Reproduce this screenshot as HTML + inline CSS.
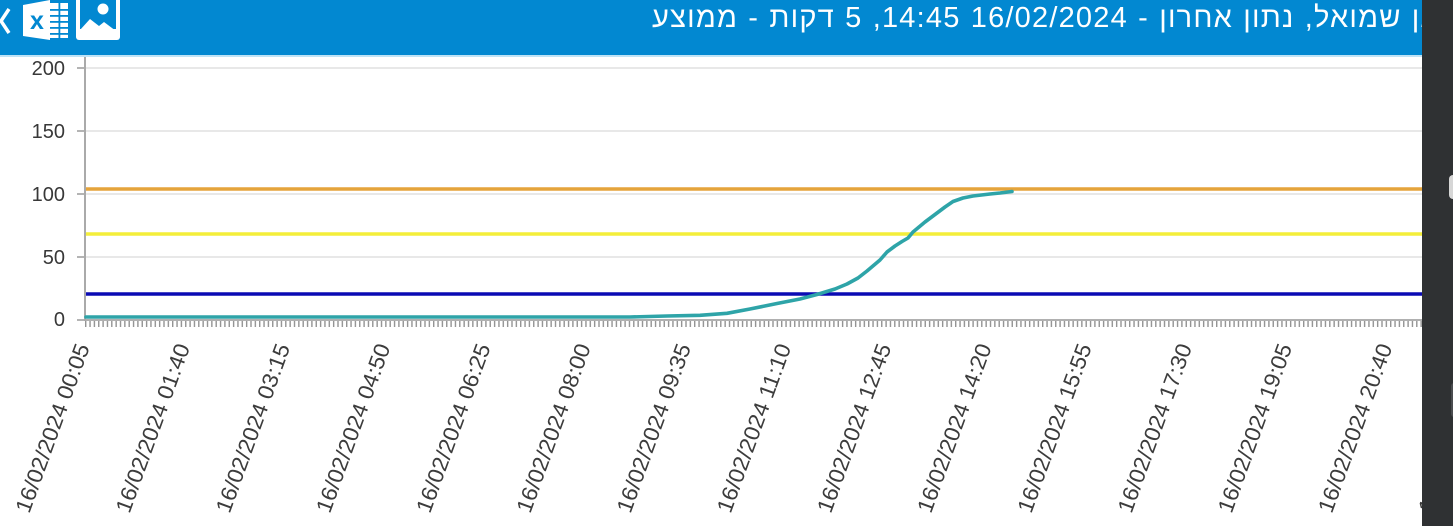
<!DOCTYPE html>
<html>
<head>
<meta charset="utf-8">
<style>
  html,body{margin:0;padding:0;}
  body{width:1453px;height:526px;overflow:hidden;background:#fff;position:relative;font-family:"Liberation Sans","DejaVu Sans",sans-serif;}
  #chart{position:absolute;left:0;top:0;}
  #title{position:absolute;left:652px;top:3px;width:782px;height:34px;line-height:30px;font-size:29px;color:#fff;direction:rtl;white-space:nowrap;text-align:justify;text-align-last:justify;letter-spacing:1.2px;font-family:"Liberation Sans","DejaVu Sans",sans-serif;z-index:1;}
  #overlay{position:absolute;left:1422px;top:0;width:31px;height:526px;background:#2f3133;z-index:2;}
  #overlay .a{position:absolute;left:27px;top:175px;width:8px;height:24px;border-radius:4px;background:#d6d6d6;}
  #overlay .b{position:absolute;left:29px;top:383px;width:6px;height:34px;border-radius:3px;background:#4a4c4f;}
</style>
</head>
<body>
<svg id="chart" width="1453" height="526" viewBox="0 0 1453 526" xmlns="http://www.w3.org/2000/svg">
  <defs>
    <pattern id="ticks" x="85" y="321" width="4.35" height="7" patternUnits="userSpaceOnUse">
      <rect x="0" y="0" width="1.4" height="6" fill="#939393"/>
    </pattern>
  </defs>

  <!-- header -->
  <rect x="0" y="0" width="1453" height="55" fill="#0288D1"/>
  <rect x="0" y="55" width="1453" height="2" fill="#bfe3f6"/>

  <!-- back chevron -->
  <polyline points="9,9 1,21 9,33" fill="none" stroke="#fff" stroke-width="3.5"/>
  <!-- excel icon -->
  <polygon points="23,5 50,0 50,40 23,36" fill="#fff"/>
  <text x="37" y="29" font-size="25" font-weight="bold" fill="#0288D1" text-anchor="middle" font-family="Liberation Sans, sans-serif">x</text>
  <rect x="50" y="3" width="18" height="35" fill="#fff"/>
  <g fill="#0288D1">
    <rect x="50" y="9" width="18" height="1.8"/>
    <rect x="50" y="15" width="18" height="1.8"/>
    <rect x="50" y="21" width="18" height="1.8"/>
    <rect x="50" y="27" width="18" height="1.8"/>
    <rect x="50" y="33" width="18" height="1.8"/>
    <rect x="58.5" y="3" width="1.8" height="35"/>
  </g>
  <!-- image icon -->
  <rect x="76" y="-4" width="44" height="44" rx="3" fill="#fff"/>
  <rect x="80" y="-1" width="36" height="30" fill="#0288D1"/>
  <circle cx="103" cy="9" r="5.5" fill="#fff"/>
  <polygon points="80,30 90,19 99,26 104,22 116,31 116,36 80,36" fill="#fff"/>

  <!-- gridlines -->
  <g stroke="#e0e0e0" stroke-width="1.6">
    <line x1="85" y1="68" x2="1422" y2="68"/>
    <line x1="85" y1="131" x2="1422" y2="131"/>
    <line x1="85" y1="194" x2="1422" y2="194"/>
    <line x1="85" y1="257" x2="1422" y2="257"/>
  </g>
  <!-- y ticks -->
  <g stroke="#9a9a9a" stroke-width="1.5">
    <line x1="77" y1="68" x2="85" y2="68"/>
    <line x1="77" y1="131" x2="85" y2="131"/>
    <line x1="77" y1="194" x2="85" y2="194"/>
    <line x1="77" y1="257" x2="85" y2="257"/>
    <line x1="77" y1="320" x2="85" y2="320"/>
  </g>
  <!-- y labels -->
  <g font-size="20" fill="#383838" text-anchor="end" font-family="Liberation Sans, sans-serif">
    <text x="65" y="75">200</text>
    <text x="65" y="138">150</text>
    <text x="65" y="201">100</text>
    <text x="65" y="264">50</text>
    <text x="65" y="326">0</text>
  </g>

  <!-- threshold lines -->
  <line x1="86" y1="189" x2="1422" y2="189" stroke="#E5A43B" stroke-width="3.6"/>
  <line x1="86" y1="234" x2="1422" y2="234" stroke="#F4EE3A" stroke-width="3.6"/>
  <line x1="86" y1="294" x2="1422" y2="294" stroke="#0A0AB4" stroke-width="3.4"/>

  <!-- axes -->
  <rect x="85" y="321" width="1337" height="6" fill="url(#ticks)"/>
  <line x1="85" y1="320" x2="1422" y2="320" stroke="#b0b0b0" stroke-width="2"/>
  <line x1="85" y1="57" x2="85" y2="321" stroke="#aaaaaa" stroke-width="2"/>

  <!-- data series -->
  <polyline fill="none" stroke="#2EA4A8" stroke-width="3.6" stroke-linejoin="round" stroke-linecap="round"
    points="86,317 630,317 667,316 700,315.3 727,313.3 750,309 777,303.5 800,299 817,294.5 835,289 847,284 858,278 867,271 880,260 887,252 895,246 902,241.5 908,238 913,232 925,222 933,216 945,207 953,201.5 963,198 973,196 990,194 1000,193 1012,191.5"/>

  <!-- x labels -->
  <g font-size="22" fill="#3c3c3c" text-anchor="end" font-family="Liberation Sans, sans-serif">
    <text x="90" y="347" transform="rotate(-70 90 347)" textLength="178" lengthAdjust="spacingAndGlyphs">16/02/2024 00:05</text>
    <text x="190.2" y="347" transform="rotate(-70 190.2 347)" textLength="178" lengthAdjust="spacingAndGlyphs">16/02/2024 01:40</text>
    <text x="290.4" y="347" transform="rotate(-70 290.4 347)" textLength="178" lengthAdjust="spacingAndGlyphs">16/02/2024 03:15</text>
    <text x="390.6" y="347" transform="rotate(-70 390.6 347)" textLength="178" lengthAdjust="spacingAndGlyphs">16/02/2024 04:50</text>
    <text x="490.8" y="347" transform="rotate(-70 490.8 347)" textLength="178" lengthAdjust="spacingAndGlyphs">16/02/2024 06:25</text>
    <text x="591" y="347" transform="rotate(-70 591 347)" textLength="178" lengthAdjust="spacingAndGlyphs">16/02/2024 08:00</text>
    <text x="691.2" y="347" transform="rotate(-70 691.2 347)" textLength="178" lengthAdjust="spacingAndGlyphs">16/02/2024 09:35</text>
    <text x="791.4" y="347" transform="rotate(-70 791.4 347)" textLength="178" lengthAdjust="spacingAndGlyphs">16/02/2024 11:10</text>
    <text x="891.6" y="347" transform="rotate(-70 891.6 347)" textLength="178" lengthAdjust="spacingAndGlyphs">16/02/2024 12:45</text>
    <text x="991.8" y="347" transform="rotate(-70 991.8 347)" textLength="178" lengthAdjust="spacingAndGlyphs">16/02/2024 14:20</text>
    <text x="1092" y="347" transform="rotate(-70 1092 347)" textLength="178" lengthAdjust="spacingAndGlyphs">16/02/2024 15:55</text>
    <text x="1192.2" y="347" transform="rotate(-70 1192.2 347)" textLength="178" lengthAdjust="spacingAndGlyphs">16/02/2024 17:30</text>
    <text x="1292.4" y="347" transform="rotate(-70 1292.4 347)" textLength="178" lengthAdjust="spacingAndGlyphs">16/02/2024 19:05</text>
    <text x="1392.6" y="347" transform="rotate(-70 1392.6 347)" textLength="178" lengthAdjust="spacingAndGlyphs">16/02/2024 20:40</text>
    <text x="1492.8" y="347" transform="rotate(-70 1492.8 347)" textLength="178" lengthAdjust="spacingAndGlyphs">16/02/2024 22:15</text>
  </g>
</svg>

<div id="title">גן שמואל, נתון אחרון - 16/02/2024 14:45, 5 דקות - ממוצע</div>

<div id="overlay"><div class="a"></div><div class="b"></div></div>
</body>
</html>
